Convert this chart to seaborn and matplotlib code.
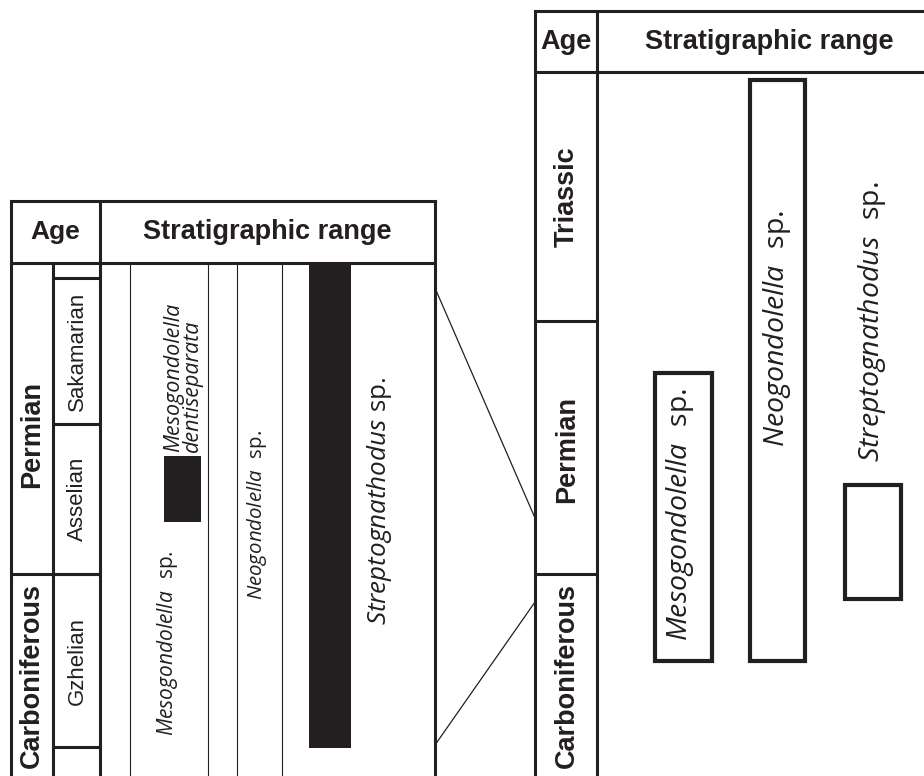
import matplotlib
matplotlib.use('Agg')
import matplotlib.pyplot as plt
from matplotlib.patches import ConnectionPatch
import seaborn as sns

# vertical levels in drawing units, 0 = base of the sheet
# left chart (detail of Gzhelian - Sakamarian)
stage_names = ['Sakamarian', 'Asselian', 'Gzhelian']
stage_lines = [498, 352, 202, 29]
stage_label_y = [425, 277, 115]
period_names = ['Permian', 'Carboniferous']
period_label_y = [342, 100]
period_line = 202
left_header = 513

left_taxa = ['Streptognathodus sp.', 'Mesogondolella dentiseparata']
left_base = [28, 254]
left_top = [513, 320]

# right chart (overview Carboniferous - Triassic)
right_periods = ['Triassic', 'Permian', 'Carboniferous']
right_period_lines = [455, 202]
right_label_y = [579, 327, 100]
right_header = 704

right_taxa = ['Mesogondolella sp.', 'Neogondolella sp.', 'Streptognathodus sp.']
right_base = [115, 115, 177]
right_top = [403, 696, 291]

ink = '#231f20'
sns.set_theme(style='white')
plt.rcParams['mathtext.fontset'] = 'custom'
plt.rcParams['mathtext.it'] = 'Open Sans:italic'
plt.rcParams['mathtext.rm'] = 'Open Sans'
head_font = dict(family='Liberation Sans', weight='bold', color=ink)
reg_font = dict(family='Liberation Sans', color=ink)

fig = plt.figure(figsize=(9.24, 7.76), dpi=100)
W, H = 924, 776

axL = fig.add_axes([11 / W, 0, 424 / W, 575 / H])
axR = fig.add_axes([535 / W, 0, 389 / W, 765 / H])

for ax, w, h in [(axL, 424, 575), (axR, 389, 765)]:
    ax.set_xlim(0, w)
    ax.set_ylim(0, h)
    ax.set_xticks([])
    ax.set_yticks([])
    for s in ['left', 'top', 'right']:
        ax.spines[s].set_color(ink)
        ax.spines[s].set_linewidth(2.2)
    ax.spines['bottom'].set_visible(False)
# the overview chart runs off the right edge of the sheet
axR.spines['right'].set_visible(False)

# ---- left chart ----
axL.axhline(left_header, color=ink, lw=2.2)
axL.axvline(89, color=ink, lw=2.2)
axL.plot([42, 42], [0, left_header], color=ink, lw=2.2)
for y in stage_lines:
    axL.plot([42, 89], [y, y], color=ink, lw=2.2)
axL.plot([0, 89], [period_line, period_line], color=ink, lw=2.2)
for x in [119, 197, 226, 271]:
    axL.plot([x, x], [0, left_header], color=ink, lw=0.8)

axL.text(44.5, 544, 'Age', ha='center', va='center', fontsize=19, **head_font)
axL.text(256.5, 544, 'Stratigraphic range', ha='center', va='center', fontsize=19.5, **head_font)
for name, y in zip(stage_names, stage_label_y):
    axL.text(66, y, name, rotation=90, ha='center', va='center', fontsize=16, **reg_font)
for name, y in zip(period_names, period_label_y):
    axL.text(21, y, name, rotation=90, ha='center', va='center', fontsize=19.5, **head_font)

axL.bar([319, 171.5], [t - b for t, b in zip(left_top, left_base)], bottom=left_base,
        width=[42, 37], color=ink, linewidth=0)

axL.text(157, 133, r'$\mathit{Mesogondolella}\ \ \mathrm{sp.}$', rotation=90,
         ha='center', va='center', fontsize=15, color=ink)
axL.text(172, 324, 'Mesogondolella\ndentiseparata', rotation=90, rotation_mode='anchor',
         ha='left', va='center', multialignment='left', linespacing=0.85,
         fontsize=15.5, family='Open Sans', style='italic', color=ink)
axL.text(246, 261, r'$\mathit{Neogondolella}\ \ \mathrm{sp.}$', rotation=90,
         ha='center', va='center', fontsize=14.7, color=ink)
axL.text(369, 275, r'$\mathit{Streptognathodus}\ \mathrm{sp.}$', rotation=90,
         ha='center', va='center', fontsize=18.7, color=ink)

# ---- right chart ----
axR.axhline(right_header, color=ink, lw=2.2)
axR.axvline(62, color=ink, lw=2.2)
for y in right_period_lines:
    axR.plot([0, 62], [y, y], color=ink, lw=2.2)
axR.text(31, 734.5, 'Age', ha='center', va='center', fontsize=19.5, **head_font)
axR.text(234, 734.5, 'Stratigraphic range', ha='center', va='center', fontsize=19.5, **head_font)
for name, y in zip(right_periods, right_label_y):
    axR.text(32, y, name, rotation=90, ha='center', va='center', fontsize=19.5, **head_font)

axR.bar([148, 242, 337.5], [t - b for t, b in zip(right_top, right_base)], bottom=right_base,
        width=[57, 55, 56], facecolor='white', edgecolor=ink, linewidth=3)
for name, x, y in zip(right_taxa, [145, 242, 337], [262, 448, 454]):
    genus, sp = name.split(' ')
    axR.text(x, y, r'$\mathit{%s}\ \ \mathrm{%s}$' % (genus, sp), rotation=90,
             ha='center', va='center', fontsize=20.5, color=ink)

# zoom connectors from the detail chart to the overview chart
for (yl, yr) in [(488, 258), (31, 174)]:
    fig.add_artist(ConnectionPatch(xyA=(424, yl), coordsA=axL.transData,
                                   xyB=(0, yr), coordsB=axR.transData,
                                   color=ink, lw=0.9))

fig.savefig('out.png', dpi=100)
